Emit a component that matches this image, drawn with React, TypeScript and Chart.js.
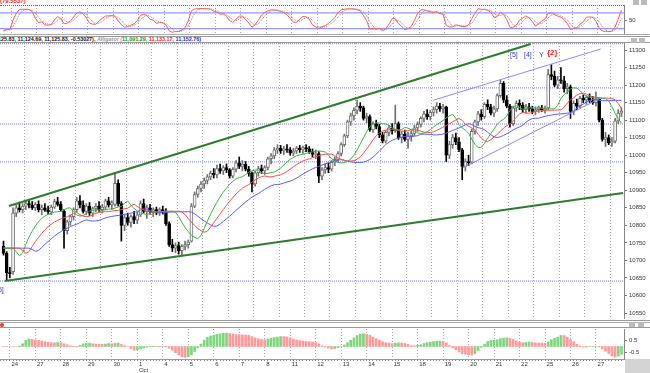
import React, { useEffect, useRef } from 'react';
import { Chart, registerables } from 'chart.js';
Chart.register(...registerables);

// ---------- data ----------
const DAY_LABELS = ['23','24','27','28','29','30','1','4','5','6','7','8','11','12','13','14','15','18','19','20','21','22','25','26','27'];
const MONTH_LABELS: Record<string, string> = { '6': 'Oct' };
const BARS_PER_DAY = [3,8,8,8,8,8,8,8,8,8,8,8,8,8,8,8,8,8,8,8,8,8,8,8,8];

const OPEN = [10740,10720,10665,
 10668,10835,10850,10845,10855,10862,10858,10850,
 10860,10845,10850,10843,10838,10852,10868,10860,
 10840,10785,10810,10825,10845,10870,10858,10840,
 10855,10835,10848,10855,10845,10852,10870,10858,
 10860,10920,10862,10800,10822,10808,10825,10815,
 10830,10862,10840,10850,10838,10845,10835,10845,
 10840,10805,10745,10735,10742,10728,10740,10745,
 10755,10855,10888,10905,10918,10928,10938,10948,
 10944,10962,10955,10965,10958,10940,10960,10978,
 10968,10975,10960,10948,10918,10950,10962,10955,
 10965,10990,10998,11015,11020,11012,11018,11015,
 11006,11012,11020,11015,11022,11018,11010,11002,
 11005,10940,10958,10965,10960,10980,10988,11005,
 11030,11055,11095,11112,11128,11140,11135,11105,
 11110,11072,11090,11082,11058,11040,11065,11078,
 11070,11090,11050,11060,11045,11055,11062,11078,
 11088,11105,11118,11110,11122,11130,11140,11132,
 11138,11000,11030,11050,11038,11015,10968,10982,
 10980,11068,11095,11118,11110,11145,11138,11120,
 11132,11170,11205,11158,11140,11090,11135,11148,
 11142,11130,11138,11132,11125,11130,11135,11130,
 11135,11230,11225,11200,11215,11212,11190,11195,
 11125,11148,11140,11162,11158,11165,11155,11150,
 11160,11100,11045,11050,11035,11040,11098,11120];

const HIGH = [10755,10725,10680,
 10850,10858,10866,10862,10870,10872,10868,10865,
 10870,10858,10862,10855,10858,10875,10880,10868,
 10845,10815,10830,10850,10880,10885,10870,10862,
 10865,10852,10862,10868,10860,10875,10880,10870,
 10950,10930,10868,10830,10835,10830,10840,10838,
 10870,10875,10858,10860,10850,10852,10850,10855,
 10848,10810,10760,10750,10752,10745,10755,10758,
 10862,10895,10912,10925,10935,10945,10955,10962,
 10972,10975,10970,10975,10962,10965,10985,10995,
 10985,10982,10968,10952,10955,10968,10972,10970,
 10995,11005,11022,11030,11028,11025,11030,11022,
 11020,11025,11028,11026,11030,11025,11018,11015,
 11010,10965,10975,10978,10985,10995,11010,11035,
 11060,11100,11120,11135,11157,11150,11140,11120,
 11115,11095,11100,11088,11065,11070,11085,11090,
 11143,11095,11068,11072,11065,11070,11085,11095,
 11110,11125,11130,11128,11138,11150,11148,11145,
 11140,11040,11060,11063,11050,11020,10990,11000,
 11075,11100,11125,11130,11150,11158,11145,11140,
 11175,11215,11210,11170,11145,11140,11155,11158,
 11150,11145,11148,11140,11138,11140,11142,11140,
 11245,11258,11240,11225,11250,11225,11205,11200,
 11155,11160,11168,11172,11170,11175,11168,11180,
 11162,11105,11065,11058,11050,11105,11130,11135];

const LOW = [10715,10644,10650,
 10660,10825,10838,10835,10845,10850,10845,10842,
 10838,10830,10840,10832,10830,10848,10855,10840,
 10735,10775,10800,10815,10838,10850,10835,10830,
 10828,10825,10838,10840,10835,10845,10852,10845,
 10855,10855,10755,10785,10800,10795,10805,10805,
 10825,10835,10820,10832,10825,10830,10828,10832,
 10800,10740,10725,10722,10718,10715,10730,10735,
 10752,10850,10880,10895,10905,10918,10930,10935,
 10935,10948,10945,10950,10935,10935,10952,10962,
 10955,10955,10940,10895,10912,10940,10948,10945,
 10958,10975,10990,11005,11005,11002,11008,11000,
 10998,11005,11008,11005,11010,11005,10995,10990,
 10922,10930,10948,10950,10955,10970,10980,10998,
 11025,11050,11085,11100,11118,11125,11100,11092,
 11068,11065,11075,11050,11035,11035,11055,11060,
 11065,11045,11035,11040,11020,11040,11055,11068,
 11080,11095,11102,11100,11112,11120,11125,11120,
 10982,10990,11020,11030,11010,10930,10955,10970,
 10975,11060,11085,11100,11105,11130,11115,11110,
 11125,11165,11150,11135,11080,11085,11125,11130,
 11122,11120,11125,11118,11115,11122,11125,11120,
 11130,11215,11195,11190,11205,11180,11175,11105,
 11115,11130,11135,11150,11145,11150,11145,11140,
 11095,11040,11025,11030,11025,11035,11090,11110];

const CLOSE = [10720,10665,10662,
 10835,10850,10845,10855,10862,10858,10850,10860,
 10845,10850,10843,10838,10852,10868,10860,10845,
 10785,10810,10825,10845,10870,10858,10840,10855,
 10835,10848,10855,10845,10852,10870,10858,10865,
 10920,10862,10800,10822,10808,10825,10815,10830,
 10862,10840,10850,10838,10845,10835,10845,10840,
 10805,10745,10735,10742,10728,10740,10745,10752,
 10855,10888,10905,10918,10928,10938,10948,10944,
 10962,10955,10965,10958,10940,10960,10978,10968,
 10975,10960,10948,10918,10950,10962,10955,10965,
 10990,10998,11015,11020,11012,11018,11015,11006,
 11012,11020,11015,11022,11018,11010,11002,11005,
 10940,10958,10965,10960,10980,10988,11005,11030,
 11055,11095,11112,11128,11140,11135,11105,11110,
 11072,11090,11082,11058,11040,11065,11078,11070,
 11090,11050,11060,11045,11055,11062,11078,11088,
 11105,11118,11110,11122,11130,11140,11132,11138,
 11000,11030,11050,11038,11015,10968,10982,10978,
 11068,11095,11118,11110,11145,11138,11120,11132,
 11170,11205,11158,11140,11090,11135,11148,11142,
 11130,11138,11132,11125,11130,11135,11130,11133,
 11230,11225,11200,11215,11212,11190,11195,11125,
 11148,11140,11162,11158,11165,11155,11150,11160,
 11100,11045,11050,11035,11040,11098,11120,11126];

const PRICE_TICKS = [10550,10600,10650,10700,10750,10800,10850,10900,10950,11000,11050,11100,11150,11200,11250,11300];
const OSC_TICKS = [50];
const OSC_LEVELS = [80, 20];
const HIST_TICKS = [-0.5, 0, 0.5, 1.0];
const PRICE_LEVELS = [11318, 11192, 11089, 10981, 10641];
// trend lines: [barIndex, price] endpoints
const CHANNEL_UPPER = [[1.7, 10855], [165.5, 11317]];
const CHANNEL_LOWER = [[0.4, 10641], [194.5, 10892]];
const WEDGE_UPPER = [[135, 11157], [187.5, 11303]];
const WEDGE_LOWER = [[144.2, 10964], [187.5, 11163]];
// indicator parameters
const JAW = [13, 8], TEETH = [8, 5], LIPS = [5, 3];
const STOCH = [5, 3, 3];
const AO_PERIODS = [5, 34];
const AO_UNIT = 100;

// ---------- derived ----------
const N = CLOSE.length;
const IDX = CLOSE.map((_, i) => i);
const DAY_STARTS: number[] = [];
{ let a = 0; for (const n of BARS_PER_DAY) { DAY_STARTS.push(a); a += n; } }
const X_MIN = -1.1, X_MAX = 194.8;
const MEDIAN = IDX.map(i => (HIGH[i] + LOW[i]) / 2);

function smma(src: number[], p: number): number[] {
  const out: number[] = []; let prev = src[0];
  src.forEach((v, i) => { prev = i === 0 ? v : (prev * (p - 1) + v) / p; out.push(prev); });
  return out;
}
function shift(src: number[], s: number): number[] { return src.map((_, i) => src[Math.max(0, i - s)]); }
function sma(src: number[], p: number, i: number): number {
  const a = Math.max(0, i - p + 1); let s = 0; for (let k = a; k <= i; k++) s += src[k]; return s / (i - a + 1);
}
const jaw = shift(smma(MEDIAN, JAW[0]), JAW[1]);
const teeth = shift(smma(MEDIAN, TEETH[0]), TEETH[1]);
const lips = shift(smma(MEDIAN, LIPS[0]), LIPS[1]);

const num: number[] = [], den: number[] = [];
IDX.forEach(i => {
  const a = Math.max(0, i - STOCH[0] + 1);
  let hh = -Infinity, ll = Infinity;
  for (let k = a; k <= i; k++) { hh = Math.max(hh, HIGH[k]); ll = Math.min(ll, LOW[k]); }
  num.push(CLOSE[i] - ll); den.push(hh - ll);
});
const stochK = IDX.map(i => {
  const a = Math.max(0, i - STOCH[1] + 1); let sn = 0, sd = 0;
  for (let k = a; k <= i; k++) { sn += num[k]; sd += den[k]; }
  return sd ? (sn / sd) * 100 : 50;
});
const stochD = IDX.map(i => sma(stochK, STOCH[2], i));
const ao = IDX.map(i => (sma(MEDIAN, AO_PERIODS[0], i) - sma(MEDIAN, AO_PERIODS[1], i)) / AO_UNIT);

const FONT = '"Liberation Sans", "DejaVu Sans", sans-serif';

const pts = (arr: number[]) => IDX.map(i => ({ x: i, y: arr[i] }));
const seg = (s: number[][]) => s.map(p => ({ x: p[0], y: p[1] }));
const hline = (v: number) => [{ x: X_MIN, y: v }, { x: X_MAX, y: v }];

const noPad = (s: any) => { s.paddingTop = 0; s.paddingBottom = 0; s.paddingLeft = 0; s.paddingRight = 0; };

function hiddenX(): any {
  return {
    type: 'linear', min: X_MIN, max: X_MAX, offset: false, bounds: 'data',
    afterBuildTicks: (s: any) => { s.ticks = DAY_STARTS.slice(1).map(v => ({ value: v - 0.5 })); },
    afterFit: (s: any) => { s.height = 0; noPad(s); },
    ticks: { display: false },
    grid: { color: '#a8a8a8', drawTicks: false, lineWidth: 1 },
    border: { display: false, dash: [1, 2] },
  };
}
function rightY(min: number, max: number, ticks: number[], fmt: (v: number) => string): any {
  return {
    type: 'linear', position: 'right', min, max,
    afterBuildTicks: (s: any) => { s.ticks = ticks.map(v => ({ value: v })); },
    afterFit: (s: any) => { s.width = 26; noPad(s); },
    ticks: { font: { size: 6, family: FONT }, color: '#333', padding: 2, callback: (v: any) => fmt(Number(v)) },
    grid: { drawOnChartArea: false, drawTicks: true, tickLength: 3, tickColor: '#777' },
    border: { display: true, color: '#888' },
  };
}
const base: any = {
  responsive: false, animation: false, events: [],
  layout: { padding: 0 },
  plugins: { legend: { display: false }, tooltip: { enabled: false } },
};

export default function App() {
  const topRef = useRef<HTMLCanvasElement>(null);
  const mainRef = useRef<HTMLCanvasElement>(null);
  const botRef = useRef<HTMLCanvasElement>(null);

  useEffect(() => {
    const charts: Chart[] = [];
    const up = (i: number) => CLOSE[i] >= OPEN[i];

    charts.push(new Chart(topRef.current!, {
      type: 'line',
      data: {
        datasets: [
          { data: pts(stochK), borderColor: '#ff5a5a', borderWidth: 1, pointRadius: 0, order: 0 } as any,
          { data: pts(stochD), borderColor: '#8a8a8a', borderWidth: 1, borderDash: [1, 1], pointRadius: 0, order: 1 },
          ...OSC_LEVELS.map(v => ({ data: hline(v), borderColor: '#7a7aff', borderWidth: 1, pointRadius: 0, order: 2 })),
        ],
      },
      options: { ...base, scales: { x: hiddenX(), y: rightY(0, 110, OSC_TICKS, v => String(v)) } },
    }));

    charts.push(new Chart(mainRef.current!, {
      type: 'bar',
      data: {
        datasets: [
          ...PRICE_LEVELS.map(v => ({ type: 'line', data: hline(v), borderColor: '#7f7fff', borderWidth: 1, borderDash: [1, 1], pointRadius: 0, order: 9 })),
          { type: 'bar', data: IDX.map(i => ({ x: i, y: [LOW[i], HIGH[i]] })), backgroundColor: IDX.map(i => up(i) ? '#707070' : '#000'), barThickness: 1, grouped: false, order: 8 },
          { type: 'bar', data: IDX.map(i => ({ x: i, y: [OPEN[i], CLOSE[i]] })), backgroundColor: IDX.map(i => up(i) ? '#ffffff' : '#000'), borderColor: IDX.map(i => up(i) ? '#707070' : '#000'), borderWidth: 1, borderSkipped: false, barThickness: 3, grouped: false, order: 7 },
          { type: 'line', data: pts(jaw), borderColor: '#5a5aff', borderWidth: 1, pointRadius: 0, order: 5 },
          { type: 'line', data: pts(teeth), borderColor: '#ff4a4a', borderWidth: 1, pointRadius: 0, order: 4 },
          { type: 'line', data: pts(lips), borderColor: '#3cb43c', borderWidth: 1, pointRadius: 0, order: 3 },
          { type: 'line', data: seg(WEDGE_UPPER), borderColor: '#8a8aff', borderWidth: 1, pointRadius: 0, order: 2 },
          { type: 'line', data: seg(WEDGE_LOWER), borderColor: '#8a8aff', borderWidth: 1, pointRadius: 0, order: 2 },
          { type: 'line', data: seg(CHANNEL_UPPER), borderColor: '#2d7d2d', borderWidth: 2, pointRadius: 0, order: 1 },
          { type: 'line', data: seg(CHANNEL_LOWER), borderColor: '#2d7d2d', borderWidth: 2, pointRadius: 0, order: 1 },
        ] as any,
      },
      options: { ...base, scales: { x: hiddenX(), y: rightY(10532.9, 11320, PRICE_TICKS, v => String(v)) } },
    }));

    const isDay = (v: number) => DAY_STARTS.indexOf(Math.round(v + 0.5)) > 0;
    charts.push(new Chart(botRef.current!, {
      type: 'bar',
      data: {
        datasets: [
          { data: IDX.map(i => ({ x: i, y: ao[i] })), backgroundColor: IDX.map(i => (i > 0 && ao[i] > ao[i - 1]) ? '#7fd67f' : '#ff9a9a'), barThickness: 2, grouped: false } as any,
        ],
      },
      options: {
        ...base,
        scales: {
          x: {
            type: 'linear', min: X_MIN, max: X_MAX, offset: false, bounds: 'data',
            afterBuildTicks: (s: any) => { s.ticks = Array.from({ length: N + 1 }, (_, i) => ({ value: i - 0.5 })); },
            afterFit: (s: any) => { s.height = 14; noPad(s); },
            ticks: {
              autoSkip: false, maxRotation: 0, minRotation: 0, align: 'start', padding: 0,
              font: { size: 6, family: FONT, lineHeight: 1 }, color: '#333',
              callback: (v: any) => {
                const d = DAY_STARTS.indexOf(Math.round(Number(v) + 0.5));
                if (d <= 0) return '';
                return MONTH_LABELS[String(d)] ? [DAY_LABELS[d], MONTH_LABELS[String(d)]] : DAY_LABELS[d];
              },
            },
            grid: {
              color: (c: any) => (c.tick && isDay(c.tick.value)) ? '#a8a8a8' : 'rgba(0,0,0,0)',
              drawTicks: true, tickLength: 2, tickColor: '#8a8a8a', tickBorderDash: [],
            },
            border: { display: true, color: '#999', dash: [1, 2] },
          } as any,
          y: rightY(-1.042, 1.458, HIST_TICKS, v => v.toFixed(1)),
        },
      },
    }));

    return () => charts.forEach(c => c.destroy());
  }, []);

  const abs = (s: any) => ({ position: 'absolute', ...s }) as React.CSSProperties;
  const txt = { fontFamily: FONT, whiteSpace: 'nowrap', lineHeight: 1 } as React.CSSProperties;

  return (
    <div style={{ position: 'fixed', left: 0, top: 0, width: 650, height: 373, background: '#fff', overflow: 'hidden' }}>
      {/* top oscillator */}
      <div style={{ ...txt, ...abs({ left: 0, top: -2, fontSize: 6, color: '#ff2020', fontWeight: 'bold' }) }}>(79.5537)</div>
      <div style={abs({ left: 0, top: 5, width: 624, height: 0, borderTop: '1px dotted #666' })} />
      <canvas ref={topRef} width={650} height={29} style={abs({ left: 0, top: 5 })} />
      <div style={abs({ left: 633, top: 0, width: 6, height: 5, background: '#bbb' })} />
      <div style={abs({ left: 641, top: 0, width: 6, height: 5, background: '#bbb' })} />

      {/* header row */}
      <div style={abs({ left: 0, top: 34, width: 650, height: 1, background: '#aaa' })} />
      <div style={abs({ left: 0, top: 36, width: 650, height: 1, background: '#999' })} />
      <div style={{ ...txt, ...abs({ left: -2, top: 37, fontSize: 5.4, fontWeight: 'bold' }) }}>
        <span style={{ color: '#111' }}>125.83, 11,124.69, 11,125.83, -0.53027), </span>
        <span style={{ color: '#999', fontStyle: 'italic' }}>Alligator (</span>
        <span style={{ color: '#129912' }}>11,091.29, </span>
        <span style={{ color: '#ff2020' }}>11,133.17, </span>
        <span style={{ color: '#2020ff' }}>11,152.76)</span>
      </div>
      <div style={abs({ left: 0, top: 42, width: 650, height: 1, background: '#999' })} />
      <div style={abs({ left: 631, top: 38, width: 6, height: 5, background: '#bbb' })} />
      <div style={abs({ left: 639, top: 38, width: 6, height: 5, background: '#bbb' })} />

      {/* main price panel */}
      <canvas ref={mainRef} width={650} height={276} style={abs({ left: 0, top: 43 })} />
      <div style={{ ...txt, ...abs({ left: 510, top: 51, fontSize: 7, color: '#4040c0' }) }}>[5]</div>
      <div style={{ ...txt, ...abs({ left: 524, top: 51, fontSize: 7, color: '#4040c0' }) }}>[4]</div>
      <div style={{ ...txt, ...abs({ left: 539, top: 51, fontSize: 7, color: '#4040c0' }) }}>Y</div>
      <div style={{ ...txt, ...abs({ left: 547, top: 49, fontSize: 8, color: '#ff2020', fontWeight: 'bold' }) }}>{'{2}'}</div>
      <div style={{ ...txt, ...abs({ left: -4, top: 286, fontSize: 7, color: '#4040c0' }) }}>[5]</div>

      {/* bottom histogram */}
      <div style={abs({ left: 0, top: 320, width: 650, height: 1, background: '#999' })} />
      <div style={abs({ left: 0, top: 322, width: 650, height: 1, background: '#aaa' })} />
      <div style={abs({ left: 0, top: 327, width: 650, height: 1, background: '#999' })} />
      <div style={abs({ left: 0, top: 323, width: 4, height: 4, background: '#ff3030', borderRadius: 2 })} />
      <div style={abs({ left: 629, top: 322, width: 6, height: 5, background: '#bbb' })} />
      <div style={abs({ left: 638, top: 322, width: 6, height: 5, background: '#bbb' })} />
      <canvas ref={botRef} width={650} height={44} style={abs({ left: 0, top: 329 })} />
      <div style={abs({ left: 625, top: 359, width: 25, height: 14, background: '#d4d4d4' })} />
    </div>
  );
}
